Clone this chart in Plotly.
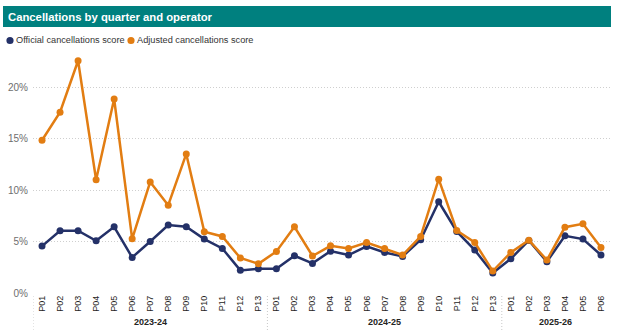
import plotly.graph_objects as go

years = ["2023-24"] * 13 + ["2024-25"] * 13 + ["2025-26"] * 6
periods = ["P01", "P02", "P03", "P04", "P05", "P06", "P07", "P08", "P09", "P10", "P11", "P12", "P13",
           "P01", "P02", "P03", "P04", "P05", "P06", "P07", "P08", "P09", "P10", "P11", "P12", "P13",
           "P01", "P02", "P03", "P04", "P05", "P06"]
official = [4.56, 6.05, 6.05, 5.08, 6.44, 3.46, 5.01, 6.60, 6.44, 5.24, 4.33, 2.20, 2.36,
            2.36, 3.62, 2.88, 4.07, 3.69, 4.53, 3.94, 3.56, 5.18, 8.87, 5.98, 4.17, 1.94,
            3.33, 5.11, 3.04, 5.56, 5.24, 3.69]
adjusted = [14.85, 17.57, 22.58, 11.00, 18.86, 5.27, 10.80, 8.54, 13.52, 5.95, 5.50, 3.40, 2.84,
            4.04, 6.44, 3.60, 4.59, 4.33, 4.91, 4.33, 3.69, 5.50, 11.07, 6.08, 4.91, 2.13,
            3.94, 5.14, 3.20, 6.40, 6.73, 4.43]

NAVY = "#243168"
ORANGE = "#E27D12"
TEAL = "#00807F"

W, H = 617, 330
ML, MR, MT, MB = 33, 7, 52, 37
PW, PH = W - ML - MR, H - MT - MB

def px(x):
    return (x - ML) / PW

def py(y):
    return (H - MB - y) / PH

xs = list(range(len(periods)))

fig = go.Figure()
fig.add_trace(go.Scatter(x=xs, y=[v / 100 for v in official], mode="lines+markers",
                         name="Official cancellations score",
                         line=dict(color=NAVY, width=2.5), marker=dict(size=7, color=NAVY),
                         showlegend=False))
fig.add_trace(go.Scatter(x=xs, y=[v / 100 for v in adjusted], mode="lines+markers",
                         name="Adjusted cancellations score",
                         line=dict(color=ORANGE, width=2.5), marker=dict(size=7, color=ORANGE),
                         showlegend=False))

FONT = "Liberation Sans, Arial"

# title bar
fig.add_shape(type="rect", xref="paper", yref="paper", x0=px(3), x1=px(611), y0=py(27), y1=py(6),
              fillcolor=TEAL, line=dict(width=0), layer="below")
fig.add_annotation(xref="paper", yref="paper", x=px(6), y=py(16.5), xanchor="left", yanchor="middle",
                   text="<b>Cancellations by quarter and operator</b>", showarrow=False,
                   font=dict(family=FONT, size=11.3, color="white"))

# legend
leg = [("Official cancellations score", NAVY, 10), ("Adjusted cancellations score", ORANGE, 131)]
for name, col, cx in leg:
    r = 3.6
    fig.add_shape(type="circle", xref="paper", yref="paper", x0=px(cx - r), x1=px(cx + r),
                  y0=py(40.5 + r), y1=py(40.5 - r), fillcolor=col, line=dict(width=0))
    fig.add_annotation(xref="paper", yref="paper", x=px(cx + 4), y=py(40.5), xanchor="left",
                       yanchor="middle", text=name, showarrow=False,
                       font=dict(family=FONT, size=9.2, color="#333333"))

# year group labels and dividers
groups = []
for i, yname in enumerate(years):
    if not groups or groups[-1][0] != yname:
        groups.append([yname, i, i])
    else:
        groups[-1][2] = i
for yname, a, b in groups:
    fig.add_annotation(xref="x", yref="paper", x=(a + b) / 2, y=py(322), yanchor="middle",
                       text="<b>" + yname + "</b>", showarrow=False,
                       font=dict(family=FONT, size=9, color="#252423"))
for yname, a, b in groups:
    fig.add_shape(type="line", xref="x", yref="paper", x0=a - 0.5, x1=a - 0.5, y0=py(296), y1=py(330),
                  line=dict(color="#C8C8C8", width=1, dash="1px,2px"))

fig.update_layout(
    width=W, height=H,
    margin=dict(l=ML, r=MR, t=MT, b=MB),
    plot_bgcolor="white", paper_bgcolor="white",
    font=dict(family=FONT, color="#252423"),
)
fig.update_xaxes(range=[-0.5, len(periods) - 0.5], tickmode="array", tickvals=xs, ticktext=periods,
                 tickangle=-90, showgrid=False, zeroline=False, showline=False, ticks="",
                 tickfont=dict(family=FONT, size=9, color="#252423"))
fig.update_yaxes(range=[0, 0.2343], tickformat=".0%", dtick=0.05, tick0=0, showgrid=True,
                 gridcolor="#CFCFCF", gridwidth=1, griddash="1px,2px", zeroline=False, showline=False,
                 ticks="", ticklabelstandoff=4,
                 tickfont=dict(family=FONT, size=10, color="#6E6E6E"))

fig.write_html("out.html")
